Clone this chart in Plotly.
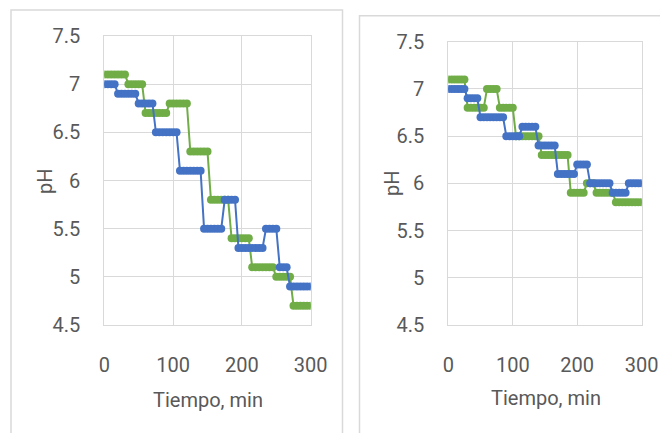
import plotly.graph_objects as go

W, H = 660, 433
OFF = 0  # body margin is removed by post_script below

time_min = [0, 5, 10, 15, 20, 25, 30, 35, 40, 45, 50, 55, 60, 65, 70, 75, 80, 85, 90, 95,
            100, 105, 110, 115, 120, 125, 130, 135, 140, 145, 150, 155, 160, 165, 170, 175,
            180, 185, 190, 195, 200, 205, 210, 215, 220, 225, 230, 235, 240, 245, 250, 255,
            260, 265, 270, 275, 280, 285, 290, 295, 300]

ph_left_blue = [7.0, 7.0, 7.0, 7.0,
                6.9, 6.9, 6.9, 6.9, 6.9, 6.9,
                6.8, 6.8, 6.8, 6.8, 6.8,
                6.5, 6.5, 6.5, 6.5, 6.5, 6.5, 6.5,
                6.1, 6.1, 6.1, 6.1, 6.1, 6.1, 6.1,
                5.5, 5.5, 5.5, 5.5, 5.5, 5.5,
                5.8, 5.8, 5.8, 5.8,
                5.3, 5.3, 5.3, 5.3, 5.3, 5.3, 5.3, 5.3,
                5.5, 5.5, 5.5, 5.5,
                5.1, 5.1, 5.1,
                4.9, 4.9, 4.9, 4.9, 4.9, 4.9, 4.9]

ph_left_green = [7.1, 7.1, 7.1, 7.1, 7.1, 7.1, 7.1,
                 7.0, 7.0, 7.0, 7.0, 7.0,
                 6.7, 6.7, 6.7, 6.7, 6.7, 6.7, 6.7,
                 6.8, 6.8, 6.8, 6.8, 6.8, 6.8,
                 6.3, 6.3, 6.3, 6.3, 6.3, 6.3,
                 5.8, 5.8, 5.8, 5.8, 5.8, 5.8,
                 5.4, 5.4, 5.4, 5.4, 5.4, 5.4,
                 5.1, 5.1, 5.1, 5.1, 5.1, 5.1, 5.1,
                 5.0, 5.0, 5.0, 5.0, 5.0,
                 4.7, 4.7, 4.7, 4.7, 4.7, 4.7]

ph_right_blue = [7.0, 7.0, 7.0, 7.0, 7.0, 7.0,
                 6.9, 6.9, 6.9, 6.9,
                 6.7, 6.7, 6.7, 6.7, 6.7, 6.7, 6.7, 6.7,
                 6.5, 6.5, 6.5, 6.5, 6.5,
                 6.6, 6.6, 6.6, 6.6, 6.6,
                 6.4, 6.4, 6.4, 6.4, 6.4, 6.4,
                 6.1, 6.1, 6.1, 6.1, 6.1, 6.1,
                 6.2, 6.2, 6.2, 6.2,
                 6.0, 6.0, 6.0, 6.0, 6.0, 6.0, 6.0,
                 5.9, 5.9, 5.9, 5.9, 5.9,
                 6.0, 6.0, 6.0, 6.0, 6.0]

ph_right_green = [7.1, 7.1, 7.1, 7.1, 7.1, 7.1,
                  6.8, 6.8, 6.8, 6.8, 6.8, 6.8,
                  7.0, 7.0, 7.0, 7.0,
                  6.8, 6.8, 6.8, 6.8, 6.8,
                  6.5, 6.5, 6.5, 6.5, 6.5, 6.5, 6.5, 6.5,
                  6.3, 6.3, 6.3, 6.3, 6.3, 6.3, 6.3, 6.3, 6.3,
                  5.9, 5.9, 5.9, 5.9, 5.9,
                  6.0, 6.0, 6.0,
                  5.9, 5.9, 5.9, 5.9, 5.9, 5.9,
                  5.8, 5.8, 5.8, 5.8, 5.8, 5.8, 5.8, 5.8, 5.8]

x_ticks = [0, 100, 200, 300]
y_ticks = [4.5, 5, 5.5, 6, 6.5, 7, 7.5]
x_title = "Tiempo, min"
y_title = "pH"

BLUE = "#4472C4"
GREEN = "#70AD47"
GRID = "#d9d9d9"
TEXT = "#595959"
FONT = "Roboto, sans-serif"
FS = 20

fig = go.Figure()

def add_series(y, color, xa, ya):
    fig.add_trace(go.Scatter(
        x=time_min, y=y, mode="lines+markers", xaxis=xa, yaxis=ya,
        line=dict(color=color, width=2),
        marker=dict(color=color, size=8, symbol="circle"),
        showlegend=False, hoverinfo="x+y"))

add_series(ph_left_green, GREEN, "x", "y")
add_series(ph_left_blue, BLUE, "x", "y")
add_series(ph_right_green, GREEN, "x2", "y2")
add_series(ph_right_blue, BLUE, "x2", "y2")

# plot-area boxes in page pixels (left, right, top, bottom)
L_box = (104.3, 310.7, 36.0, 325.0)
R_box = (448.3, 641.7, 41.7, 325.0)

def fx(px):
    return (px - OFF) / W

def fy(py):
    return 1 - (py - OFF) / H

def xdom(b):
    return [fx(b[0]), fx(b[1])]

def ydom(b):
    return [fy(b[3]), fy(b[2])]

axx = dict(range=[0, 300], tickvals=x_ticks, showgrid=True, gridcolor=GRID, gridwidth=1,
           zeroline=False, showline=True, mirror=True, linecolor=GRID, linewidth=1,
           ticks="", tickfont=dict(family=FONT, size=FS, color=TEXT),
           ticklabelstandoff=22, fixedrange=True, automargin=False)
axy = dict(range=[4.5, 7.5], tickvals=y_ticks, showgrid=True, gridcolor=GRID, gridwidth=1,
           zeroline=False, showline=True, mirror=True, linecolor=GRID, linewidth=1,
           ticks="", tickfont=dict(family=FONT, size=FS, color=TEXT),
           ticklabelstandoff=19, fixedrange=True, automargin=False)

fig.update_layout(
    width=W, height=H, autosize=False,
    margin=dict(l=0, r=0, t=0, b=0, pad=0, autoexpand=False),
    paper_bgcolor="white", plot_bgcolor="white",
    xaxis=dict(axx, domain=xdom(L_box), anchor="y"),
    yaxis=dict(axy, domain=ydom(L_box), anchor="x"),
    xaxis2=dict(axx, domain=xdom(R_box), anchor="y2"),
    yaxis2=dict(axy, domain=ydom(R_box), anchor="x2"),
)

def ann(text, px, py, angle=0):
    fig.add_annotation(text=text, x=fx(px), y=fy(py), xref="paper", yref="paper",
                       showarrow=False, textangle=angle, xanchor="center", yanchor="middle",
                       font=dict(family=FONT, size=FS, color=TEXT))

ann(x_title, 208, 400)
ann(x_title, 546, 398)
ann(y_title, 45, 181, -90)
ann(y_title, 392, 183, -90)

# chart-area frames
fig.add_shape(type="rect", xref="paper", yref="paper",
              x0=fx(11), x1=fx(342.5), y0=-0.05, y1=fy(10),
              line=dict(color=GRID, width=1.5), fillcolor="rgba(0,0,0,0)", layer="below")
fig.add_shape(type="rect", xref="paper", yref="paper",
              x0=fx(359.5), x1=1.02, y0=-0.05, y1=fy(15.7),
              line=dict(color=GRID, width=1.5), fillcolor="rgba(0,0,0,0)", layer="below")

fig.write_html(
    "out.html",
    config={"displayModeBar": False},
    post_script="document.body.style.margin='0';document.body.style.overflow='hidden';",
)
